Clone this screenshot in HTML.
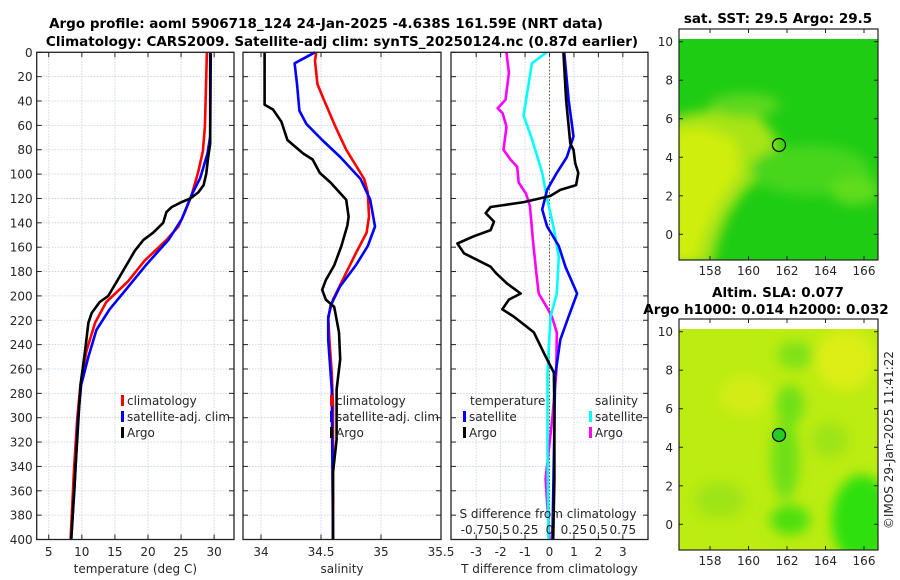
<!DOCTYPE html>
<html><head><meta charset="utf-8"><style>
body{margin:0;background:#fff;}
svg{display:block;font-family:"DejaVu Sans","Liberation Sans",sans-serif;}
.tk{font-size:12px;fill:#262626;}
.ttl{font-size:13.5px;font-weight:bold;fill:#000;}
</style></head><body>
<svg id="c" width="900" height="580" viewBox="0 0 900 580" xmlns="http://www.w3.org/2000/svg">
<defs>
<filter id="bl" x="-20%" y="-20%" width="140%" height="140%"><feGaussianBlur stdDeviation="6"/></filter>
<clipPath id="m1"><rect x="679" y="39" width="199" height="221"/></clipPath>
<clipPath id="m2"><rect x="679" y="329" width="199" height="221"/></clipPath>
</defs>
<text class="ttl" x="326" y="28" text-anchor="middle">Argo profile: aoml 5906718_124 24-Jan-2025 -4.638S 161.59E (NRT data)</text>
<text class="ttl" x="342" y="46" text-anchor="middle">Climatology: CARS2009. Satellite-adj clim: synTS_20250124.nc (0.87d earlier)</text>
<g id="plots"></g>
<g>
<text class="ttl" x="778" y="23" text-anchor="middle" font-size="13">sat. SST: 29.5 Argo: 29.5</text>
<g clip-path="url(#m1)">
<rect x="679" y="39" width="199" height="221" fill="#1ecc14"/>
<g filter="url(#bl)">
<path d="M670 118 L700 112 L730 108 L760 118 L778 140 L770 170 L745 190 L728 215 L718 240 L712 265 L670 265 Z" fill="#a8e412"/>
<path d="M670 130 L705 128 L735 140 L740 170 L720 200 L705 230 L695 265 L670 265 Z" fill="#d0ee10"/>
<ellipse cx="810" cy="170" rx="60" ry="25" fill="#46d61a"/>
<ellipse cx="855" cy="190" rx="25" ry="15" fill="#60dc1a"/>
<ellipse cx="745" cy="105" rx="35" ry="12" fill="#5cd81a"/>
</g>
</g>
<rect x="679" y="29" width="199" height="231" fill="none" stroke="#222" stroke-width="1.2"/>
<circle cx="779" cy="145" r="6.5" fill="none" stroke="#000" stroke-width="1.2"/>
<g id="map1ax"></g>
</g>
<g>
<text class="ttl" x="778" y="297" text-anchor="middle" font-size="13">Altim. SLA: 0.077</text>
<text class="ttl" x="766" y="314" text-anchor="middle" font-size="13">Argo h1000: 0.014 h2000: 0.032</text>
<g clip-path="url(#m2)">
<rect x="679" y="329" width="199" height="221" fill="#bcec12"/>
<g filter="url(#bl)">
<ellipse cx="862" cy="520" rx="30" ry="45" fill="#2ee008"/>
<ellipse cx="785" cy="460" rx="14" ry="40" fill="#6ee012"/>
<ellipse cx="790" cy="520" rx="20" ry="15" fill="#4ee00a"/>
<ellipse cx="790" cy="405" rx="14" ry="20" fill="#6ee012"/>
<ellipse cx="795" cy="355" rx="18" ry="14" fill="#7ee214"/>
<ellipse cx="845" cy="360" rx="30" ry="30" fill="#dcee14"/>
<ellipse cx="745" cy="395" rx="25" ry="20" fill="#d4ec14"/>
<ellipse cx="720" cy="500" rx="25" ry="18" fill="#9ee414"/>
<ellipse cx="830" cy="440" rx="18" ry="18" fill="#9ee414"/>
</g>
</g>
<rect x="679" y="319" width="199" height="231" fill="none" stroke="#222" stroke-width="1.2"/>
<circle cx="779" cy="435" r="6.5" fill="#22cc22" stroke="#000" stroke-width="1.2"/>
<g id="map2ax"></g>
</g>
<text class="tk" transform="translate(893,440) rotate(-90)" text-anchor="middle">©IMOS 29-Jan-2025 11:41:22</text>
</svg>
<script>
// ---- data ----
const tempDepth = [0,61,81,98,117,131,143,154,171,188,205,222,245,273,301,344,400];
const tempClim  = [28.9,28.6,28.3,27.6,26.6,25.6,24.6,22.8,19.5,17.0,13.7,12.0,10.7,9.8,9.3,8.8,8.3];
const tempSatDepth = [0,69,83,103,117,137,154,174,194,211,228,250,273,301,358,400];
const tempSat   = [29.5,29.4,29.0,27.9,26.6,25.1,23.1,19.8,16.8,14.2,12.2,11.0,9.9,9.4,8.9,8.4];
const tempArgoDepth = [0,75,86,100,109,115,120,123,127,131,140,148,154,163,177,188,200,205,214,222,245,273,400];
const tempArgo  = [29.4,29.4,29.1,28.8,28.4,27.6,26.4,25.1,23.6,22.8,22.3,20.8,19.3,18.0,16.5,15.3,14.0,12.7,11.5,11.0,10.5,9.8,8.4];

const salArgoDepth = [0,43,47,57,72,83,88,99,107,121,135,142,159,175,187,195,203,209,230,252,277,318,345,386,400];
const salArgo = [34.03,34.03,34.10,34.17,34.22,34.35,34.43,34.49,34.58,34.71,34.73,34.72,34.67,34.61,34.54,34.51,34.54,34.61,34.65,34.66,34.63,34.63,34.60,34.60,34.60];
const salClimDepth = [0,7,26,38,61,80,104,115,135,148,165,187,203,217,236,264,291,400];
const salClim = [34.46,34.45,34.47,34.52,34.62,34.71,34.86,34.89,34.90,34.88,34.79,34.68,34.60,34.56,34.57,34.59,34.60,34.60];
const salSatDepth = [0,9,26,48,59,72,86,104,121,143,159,175,192,208,219,236,277,400];
const salSat = [34.45,34.28,34.30,34.32,34.38,34.51,34.66,34.83,34.91,34.95,34.89,34.79,34.66,34.58,34.56,34.56,34.59,34.60];

const dTArgoDepth = [0,39,75,80,91,99,109,113,118,123,127,132,139,146,151,157,165,176,181,190,198,203,211,217,230,247,263,300,350,400];
const dTArgo = [0.57,0.68,0.85,0.98,1.05,1.18,1.09,0.44,0.03,-1.05,-2.41,-2.61,-2.27,-2.41,-3.09,-3.77,-3.5,-2.41,-2.2,-1.73,-1.18,-1.66,-1.93,-1.46,-0.64,-0.23,0.18,0.2,0.2,0.15];
const dTSatDepth = [0,39,69,86,99,113,129,143,159,176,198,217,236,266,330,400];
const dTSat = [0.6,0.78,0.98,0.71,0.3,-0.1,-0.3,-0.1,0.38,0.65,1.13,0.78,0.44,0.23,0.18,0.12];
const dSSatDepth = [0,9,44,52,71,99,118,143,168,198,217,263,330,400];
const dSSat = [-0.03,-0.18,-0.25,-0.265,-0.18,-0.075,-0.03,0.04,0.095,0.075,0.01,-0.02,-0.02,-0.01];
const dSArgoDepth = [0,17,39,46,50,61,80,88,94,107,116,126,154,181,198,209,217,230,263,300,350,400];
const dSArgo = [-0.44,-0.415,-0.45,-0.53,-0.48,-0.44,-0.47,-0.40,-0.33,-0.315,-0.24,-0.2,-0.17,-0.135,-0.11,-0.03,0.025,0.075,0.07,0.03,-0.04,0.0];

const depthTicks = [0,20,40,60,80,100,120,140,160,180,200,220,240,260,280,300,320,340,360,380,400];
const tempTicks = [5,10,15,20,25,30];
const salTicks = [34,34.5,35,35.5];
const dTTicks = [-3,-2,-1,0,1,2,3];
const dSTicks = ["-0.75","0.5","0.25","0","0.25","0.5","0.75"];
const lonTicks = [158,160,162,164,166];
const latTicks = [0,2,4,6,8,10];

// ---- layout ----
const NS="http://www.w3.org/2000/svg";
const TOP=52.3, BOT=539.5;
const yD = d => TOP + (BOT-TOP)*d/400;
function mk(tag, attrs, parent){const e=document.createElementNS(NS,tag);for(const k in attrs)e.setAttribute(k,attrs[k]);parent.appendChild(e);return e;}
const plots=document.getElementById('plots');

function panel(name,x0,x1,xmin,xmax,ticks,labelFmt,xlabel,showY){
  const g=mk('g',{},plots);
  
  
  const xs=v=>x0+(x1-x0)*(v-xmin)/(xmax-xmin);
  depthTicks.forEach(d=>{
    const l=mk('line',{x1:x0,x2:x1,y1:yD(d),y2:yD(d),stroke:'#c4cce8','stroke-width':0.8,'stroke-dasharray':'1.5,1.5'},g);
    
    
    mk('line',{x1:x0,x2:x0+5,y1:yD(d),y2:yD(d),stroke:'#222'},g);
    mk('line',{x1:x1-5,x2:x1,y1:yD(d),y2:yD(d),stroke:'#222'},g);
    if(showY){const t=mk('text',{x:x0-4,y:yD(d)+4.5,'text-anchor':'end',class:'tk'},g);t.textContent=d;
      
      }
  });
  ticks.forEach(v=>{
    const X=xs(v);
    const l=mk('line',{x1:X,x2:X,y1:TOP,y2:BOT,stroke:'#c4cce8','stroke-width':0.8,'stroke-dasharray':'1.5,1.5'},g);
    
    
    mk('line',{x1:X,x2:X,y1:BOT-5,y2:BOT,stroke:'#222'},g);
    mk('line',{x1:X,x2:X,y1:TOP,y2:TOP+5,stroke:'#222'},g);
    const t=mk('text',{x:X,y:556,'text-anchor':'middle',class:'tk'},g);t.textContent=labelFmt(v);
    
    
  });
  const xl=mk('text',{x:(x0+x1)/2,y:573,'text-anchor':'middle',class:'tk'},g);xl.textContent=xlabel;
  
  
  return {g,xs,x0,x1};
}
function frame(p){const r=mk('rect',{x:p.x0,y:TOP,width:p.x1-p.x0,height:BOT-TOP,fill:'none',stroke:'#222','stroke-width':1.3},p.g);
  
  }
function curve(p,vals,depths,color,name,scale){
  const pts=vals.map((v,i)=>p.xs(v*(scale||1)).toFixed(1)+','+yD(depths[i]).toFixed(1)).join(' ');
  const pl=mk('polyline',{points:pts,fill:'none',stroke:color,'stroke-width':2.6,'stroke-linejoin':'round'},p.g);
  
  
}
function legend(p,x,y,items){
  items.forEach((it,i)=>{
    mk('rect',{x:x,y:y+i*16-10,width:3,height:11,fill:it[1]},p.g);
    const t=mk('text',{x:x+6,y:y+i*16,class:'tk'},p.g);t.textContent=it[0];
    
    
  });
}

const p1=panel('temperature-panel',36.7,234,3.18,33.0,tempTicks,v=>v,'temperature (deg C)',true);
curve(p1,tempClim,tempDepth,'#ff0000','temp-climatology-line');
curve(p1,tempSat,tempSatDepth,'#0000ff','temp-satellite-line');
curve(p1,tempArgo,tempArgoDepth,'#000000','temp-argo-line');
frame(p1);
legend(p1,121,405,[['climatology','#ff0000'],['satellite-adj. clim','#0000ff'],['Argo','#000']]);

const p2=panel('salinity-panel',243,441,33.85,35.5,salTicks,v=>v,'salinity',false);
curve(p2,salClim,salClimDepth,'#ff0000','sal-climatology-line');
curve(p2,salSat,salSatDepth,'#0000ff','sal-satellite-line');
curve(p2,salArgo,salArgoDepth,'#000000','sal-argo-line');
frame(p2);
legend(p2,330,405,[['climatology','#ff0000'],['satellite-adj. clim','#0000ff'],['Argo','#000']]);

const p3=panel('difference-panel',451,648,-4.03,4.03,dTTicks,v=>v,'T difference from climatology',false);
const zl=mk('line',{x1:p3.xs(0),x2:p3.xs(0),y1:TOP,y2:BOT,stroke:'#555522','stroke-width':1,'stroke-dasharray':'1.5,2'},p3.g);


curve(p3,dSArgo,dSArgoDepth,'#ff00ff','salinity-diff-argo-line',4);
curve(p3,dSSat,dSSatDepth,'#00ffff','salinity-diff-satellite-line',4);
curve(p3,dTSat,dTSatDepth,'#0000ff','temp-diff-satellite-line');
curve(p3,dTArgo,dTArgoDepth,'#000000','temp-diff-argo-line');
frame(p3);
{const t=mk('text',{x:470,y:405,class:'tk'},p3.g);t.textContent='temperature';


const t2=mk('text',{x:595,y:405,class:'tk'},p3.g);t2.textContent='salinity';

}
legend(p3,463,421,[['satellite','#0000ff'],['Argo','#000']]);
legend(p3,589,421,[['satellite','#00ffff'],['Argo','#ff00ff']]);
{const t=mk('text',{x:548,y:518,'text-anchor':'middle',class:'tk'},p3.g);t.textContent='S difference from climatology';


dSTicks.forEach((s,i)=>{const tt=mk('text',{x:p3.xs(dTTicks[i]),y:534,'text-anchor':'middle',class:'tk'},p3.g);tt.textContent=s;
  
  });}

function mapAx(id,y0,y1,lat10){
  const g=document.getElementById(id);
  const lx=v=>710+(v-158)*19.25, ly=v=>lat10+(10-v)*19.26;
  lonTicks.forEach(v=>{mk('line',{x1:lx(v),x2:lx(v),y1:y1-4,y2:y1,stroke:'#222'},g);mk('line',{x1:lx(v),x2:lx(v),y1:y0,y2:y0+4,stroke:'#222'},g);
    const t=mk('text',{x:lx(v),y:y1+15,'text-anchor':'middle',class:'tk'},g);t.textContent=v;
    
    });
  latTicks.forEach(v=>{mk('line',{x1:679,x2:683,y1:ly(v),y2:ly(v),stroke:'#222'},g);mk('line',{x1:874,x2:878,y1:ly(v),y2:ly(v),stroke:'#222'},g);
    const t=mk('text',{x:673,y:ly(v)+4.5,'text-anchor':'end',class:'tk'},g);t.textContent=v;
    
    });
}
mapAx('map1ax',29,260,41.7);
mapAx('map2ax',319,550,331.7);
</script>
</body></html>
